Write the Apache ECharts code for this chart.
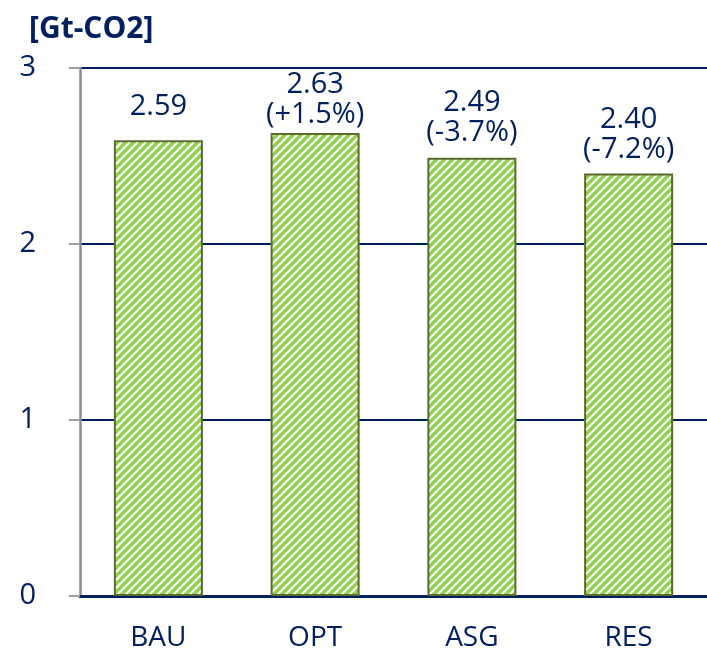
<!DOCTYPE html>
<html>
<head>
<meta charset="utf-8">
<script src="https://cdn.jsdelivr.net/npm/echarts@6/dist/echarts.min.js"></script>
<style>
  html, body { margin: 0; padding: 0; background: #fff; }
  #chart { width: 707px; height: 654px; }
</style>
</head>
<body>
<div id="chart"></div>
<script>
// scenarios and emissions [Gt-CO2]
var categories = ['BAU', 'OPT', 'ASG', 'RES'];
var emissions = [2.59, 2.63, 2.49, 2.40];
var changeText = ['', '(+1.5%)', '(-3.7%)', '(-7.2%)'];
var yTicks = [0, 1, 2, 3];

// label gap above each bar (style only)
var labelGap = [18, 3, 10, 9];

var navy = '#002060';
var font = '"Open Sans", "Noto Sans", sans-serif';

// hatched fill: light green with white diagonal stripes
function makeHatch() {
    var c = document.createElement('canvas');
    c.width = 8; c.height = 8;
    var g = c.getContext('2d');
    g.fillStyle = '#92D050';
    g.fillRect(0, 0, 8, 8);
    g.strokeStyle = '#ffffff';
    g.lineWidth = 2;
    g.beginPath();
    g.moveTo(-2, 10); g.lineTo(10, -2);
    g.moveTo(-4, 4); g.lineTo(4, -4);
    g.moveTo(4, 12); g.lineTo(12, 4);
    g.stroke();
    return c;
}

var myChart = echarts.init(document.getElementById('chart'));

var barData = emissions.map(function (v, i) {
    return {
        value: v,
        label: { distance: labelGap[i] }
    };
});

var option = {
    animation: false,
    title: {
        text: '[Gt-CO2]',
        left: 24,
        top: 9,
        textStyle: { color: navy, fontFamily: font, fontWeight: 'bold', fontSize: 30 }
    },
    grid: { left: 80, right: 0, top: 68, bottom: 58 },
    xAxis: {
        type: 'category',
        data: categories,
        axisLine: { lineStyle: { color: navy, width: 3 } },
        axisTick: { show: false },
        axisLabel: { color: navy, fontFamily: font, fontSize: 28, margin: 28 }
    },
    yAxis: {
        type: 'value',
        min: yTicks[0],
        max: yTicks[yTicks.length - 1],
        interval: 1,
        axisLine: { show: true, lineStyle: { color: '#878C94', width: 2.5 } },
        axisTick: { show: true, length: 11, lineStyle: { color: '#A0A0A0', width: 2 } },
        splitLine: { lineStyle: { color: navy, width: 2 } },
        axisLabel: { color: navy, fontFamily: font, fontSize: 29, margin: 44 }
    },
    series: [{
        type: 'bar',
        data: barData,
        barWidth: 89,
        itemStyle: {
            color: { image: makeHatch(), repeat: 'repeat' },
            borderColor: '#5B6B2E',
            borderWidth: 2
        },
        label: {
            show: true,
            position: 'top',
            color: navy,
            fontFamily: font,
            fontSize: 29,
            lineHeight: 30,
            align: 'center',
            formatter: function (p) {
                var v = p.value.toFixed(2);
                var t = changeText[p.dataIndex];
                return t ? v + '\n' + t : v;
            }
        }
    }]
};

myChart.setOption(option);
</script>
</body>
</html>
